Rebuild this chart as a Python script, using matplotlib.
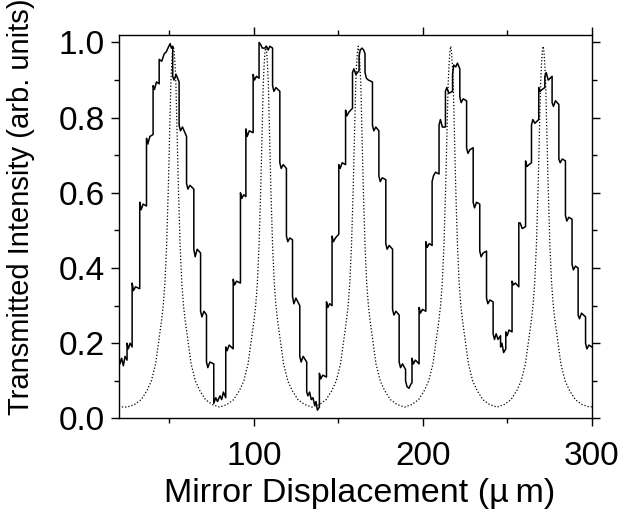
import matplotlib
matplotlib.use("Agg")
import matplotlib.pyplot as plt
from matplotlib.ticker import MultipleLocator

# ----------------------------
# Datos
# ----------------------------
# Señal medida (escalones), un renglón por escalón
solid_x = [
    20.0, 20.8, 21.8, 22.8, 23.8, 25.0,
    25.0, 25.7, 26.8, 28.0,
    28.0, 28.8, 30.0, 32.5,
    32.5, 33.3, 34.5, 36.5,
    36.5, 37.3, 38.5, 40.4,
    40.4, 41.2, 42.4, 44.0,
    44.0, 45.5, 47.0, 48.2, 49.5, 50.5, 51.2, 52.0,
    52.0, 52.8, 54.0, 55.8,
    55.8, 56.6, 57.8, 60.2,
    60.2, 61.0, 62.2, 64.5,
    64.5, 65.3, 66.5, 68.5,
    68.5, 69.3, 70.5, 72.0,
    72.0, 72.8, 74.0, 76.3,
    76.3, 77.5, 78.5, 80.0, 81.0, 82.0, 83.4,
    83.4, 84.2, 85.4, 87.8,
    87.8, 88.6, 89.8, 92.1,
    92.1, 92.9, 94.0, 95.3,
    95.3, 96.1, 97.3, 99.6,
    99.6, 100.4, 101.6, 103.1,
    103.1, 104.0, 105.0, 106.5, 107.5, 108.5, 109.5, 111.1,
    111.1, 111.9, 113.1, 115.4,
    115.4, 116.2, 117.4, 119.3,
    119.3, 120.1, 121.3, 122.9,
    122.9, 123.7, 124.9, 127.2,
    127.2, 128.0, 129.2, 131.3,
    131.3, 132.0, 133.0, 134.0, 135.0, 136.0, 136.8, 137.6, 138.8,
    138.8, 139.6, 140.8, 143.0,
    143.0, 143.8, 144.9, 146.3,
    146.3, 147.1, 148.3, 150.3,
    150.3, 151.1, 152.3, 154.3,
    154.3, 155.1, 156.3, 158.4,
    158.4, 159.2, 160.4, 162.3,
    162.3, 163.0, 164.0, 165.0, 165.8,
    165.8, 166.6, 167.8, 170.2,
    170.2, 171.0, 172.2, 174.0,
    174.0, 174.8, 176.0, 178.1,
    178.1, 178.9, 180.1, 182.1,
    182.1, 182.9, 184.1, 186.0,
    186.0, 186.8, 188.0, 189.8,
    189.8, 190.6, 191.8, 192.8, 193.6,
    193.6, 194.4, 195.6, 197.8,
    197.8, 198.6, 199.8, 201.8,
    201.8, 202.6, 203.8, 205.5,
    205.5, 206.3, 207.5, 209.6,
    209.6, 210.4, 211.6, 213.4,
    213.4, 214.2, 215.4, 217.6,
    217.6, 218.3, 219.5, 220.5, 221.9,
    221.9, 222.7, 223.9, 225.9,
    225.9, 226.7, 227.9, 229.8,
    229.8, 230.6, 231.8, 233.7,
    233.7, 234.5, 235.7, 237.7,
    237.7, 238.5, 239.7, 241.6,
    241.6, 242.4, 243.4, 244.5, 246.0,
    246.0, 246.8, 247.8, 249.1,
    249.1, 249.9, 251.0, 252.8,
    252.8, 253.6, 254.8, 256.8,
    256.8, 257.6, 258.8, 260.8,
    260.8, 261.6, 262.8, 264.3,
    264.3, 265.1, 266.3, 268.6,
    268.6, 269.4, 270.6, 272.2,
    272.2, 273.0, 274.2, 276.5,
    276.5, 277.3, 278.5, 280.5,
    280.5, 281.3, 282.5, 284.4,
    284.4, 285.2, 286.4, 288.3,
    288.3, 289.1, 290.3, 291.9,
    291.9, 292.7, 293.9, 296.3,
    296.3, 297.1, 298.3, 300.0,
]
solid_y = [
    0.175, 0.145, 0.16, 0.14, 0.165, 0.155,
    0.20, 0.185, 0.20, 0.19,
    0.36, 0.34, 0.35, 0.345,
    0.575, 0.555, 0.57, 0.565,
    0.745, 0.73, 0.75, 0.755,
    0.885, 0.875, 0.895, 0.89,
    0.955, 0.95, 0.97, 0.975, 0.988, 0.997, 0.985, 0.99,
    0.91, 0.90, 0.915, 0.895,
    0.78, 0.765, 0.775, 0.75,
    0.625, 0.61, 0.62, 0.61,
    0.45, 0.43, 0.45, 0.44,
    0.285, 0.27, 0.285, 0.275,
    0.15, 0.135, 0.15, 0.145,
    0.04, 0.055, 0.045, 0.06, 0.05, 0.07, 0.055,
    0.19, 0.18, 0.195, 0.185,
    0.37, 0.355, 0.365, 0.36,
    0.60, 0.585, 0.595, 0.59,
    0.77, 0.75, 0.765, 0.76,
    0.915, 0.90, 0.91, 0.905,
    1.0, 0.995, 0.985, 0.985, 0.99, 0.98, 0.99, 0.985,
    0.885, 0.87, 0.88, 0.87,
    0.68, 0.665, 0.675, 0.665,
    0.485, 0.47, 0.48, 0.475,
    0.325, 0.305, 0.32, 0.30,
    0.165, 0.15, 0.165, 0.15,
    0.07, 0.06, 0.07, 0.05, 0.055, 0.035, 0.045, 0.022, 0.03,
    0.12, 0.105, 0.115, 0.11,
    0.31, 0.295, 0.305, 0.30,
    0.485, 0.47, 0.48, 0.49,
    0.675, 0.665, 0.68, 0.675,
    0.82, 0.805, 0.815, 0.825,
    0.92, 0.93, 0.915, 0.925,
    0.965, 0.98, 0.985, 0.98, 0.97,
    0.92, 0.905, 0.90, 0.895,
    0.78, 0.765, 0.775, 0.765,
    0.645, 0.63, 0.64, 0.635,
    0.465, 0.45, 0.46, 0.45,
    0.29, 0.275, 0.285, 0.275,
    0.15, 0.135, 0.145, 0.13,
    0.10, 0.085, 0.08, 0.09, 0.095,
    0.16, 0.145, 0.155, 0.145,
    0.295, 0.28, 0.29, 0.285,
    0.47, 0.455, 0.465, 0.46,
    0.63, 0.645, 0.655, 0.65,
    0.78, 0.795, 0.775, 0.775,
    0.87, 0.88, 0.865, 0.87,
    0.915, 0.94, 0.935, 0.945, 0.93,
    0.855, 0.84, 0.85, 0.845,
    0.72, 0.705, 0.715, 0.72,
    0.575, 0.56, 0.575, 0.57,
    0.445, 0.43, 0.44, 0.445,
    0.32, 0.305, 0.315, 0.31,
    0.225, 0.21, 0.225, 0.21, 0.22,
    0.19, 0.20, 0.175, 0.185,
    0.23, 0.22, 0.235, 0.23,
    0.365, 0.355, 0.36, 0.35,
    0.52, 0.52, 0.505, 0.51,
    0.685, 0.67, 0.675, 0.68,
    0.78, 0.795, 0.785, 0.795,
    0.88, 0.87, 0.875, 0.88,
    0.91, 0.92, 0.90, 0.91,
    0.84, 0.83, 0.845, 0.835,
    0.69, 0.68, 0.69, 0.685,
    0.54, 0.525, 0.535, 0.53,
    0.41, 0.395, 0.405, 0.40,
    0.275, 0.265, 0.28, 0.27,
    0.20, 0.185, 0.195, 0.19,
]

# Curva teórica (punteada), un renglón por pico
dotted_x = [
    20.0, 25.0,
    29.4, 33.4, 36.9, 39.4, 41.9, 43.9, 45.4, 46.4, 47.4, 48.4, 49.4, 49.9, 50.4, 50.9, 51.4, 51.9,
    52.4, 52.9, 53.4, 53.9, 54.4, 54.9, 55.4, 56.4, 57.4, 58.4, 59.4, 60.9, 62.9, 65.4, 67.9, 71.4, 75.4,
    79.75,
    84.1, 88.1, 91.6, 94.1, 96.6, 98.6, 100.1, 101.1, 102.1, 103.1, 104.1, 104.6, 105.1, 105.6, 106.1, 106.6,
    107.1, 107.6, 108.1, 108.6, 109.1, 109.6, 110.1, 111.1, 112.1, 113.1, 114.1, 115.6, 117.6, 120.1, 122.6, 126.1, 130.1,
    134.45,
    138.8, 142.8, 146.3, 148.8, 151.3, 153.3, 154.8, 155.8, 156.8, 157.8, 158.8, 159.3, 159.8, 160.3, 160.8, 161.3,
    161.8, 162.3, 162.8, 163.3, 163.8, 164.3, 164.8, 165.8, 166.8, 167.8, 168.8, 170.3, 172.3, 174.8, 177.3, 180.8, 184.8,
    189.15,
    193.5, 197.5, 201.0, 203.5, 206.0, 208.0, 209.5, 210.5, 211.5, 212.5, 213.5, 214.0, 214.5, 215.0, 215.5, 216.0,
    216.5, 217.0, 217.5, 218.0, 218.5, 219.0, 219.5, 220.5, 221.5, 222.5, 223.5, 225.0, 227.0, 229.5, 232.0, 235.5, 239.5,
    243.85,
    248.2, 252.2, 255.7, 258.2, 260.7, 262.7, 264.2, 265.2, 266.2, 267.2, 268.2, 268.7, 269.2, 269.7, 270.2, 270.7,
    271.2, 271.7, 272.2, 272.7, 273.2, 273.7, 274.2, 275.2, 276.2, 277.2, 278.2, 279.7, 281.7, 284.2, 286.7, 290.2, 294.2,
    298.6, 300.0,
]
dotted_y = [
    0.031, 0.030,
    0.037, 0.05, 0.075, 0.10, 0.145, 0.21, 0.26, 0.30, 0.36, 0.46, 0.61, 0.70, 0.80, 0.89, 0.94, 0.975,
    0.99, 0.975, 0.94, 0.89, 0.80, 0.70, 0.61, 0.46, 0.36, 0.30, 0.26, 0.21, 0.145, 0.10, 0.075, 0.05, 0.037,
    0.030,
    0.037, 0.05, 0.075, 0.10, 0.145, 0.21, 0.26, 0.30, 0.36, 0.46, 0.61, 0.70, 0.80, 0.89, 0.94, 0.975,
    0.99, 0.975, 0.94, 0.89, 0.80, 0.70, 0.61, 0.46, 0.36, 0.30, 0.26, 0.21, 0.145, 0.10, 0.075, 0.05, 0.037,
    0.030,
    0.037, 0.05, 0.075, 0.10, 0.145, 0.21, 0.26, 0.30, 0.36, 0.46, 0.61, 0.70, 0.80, 0.89, 0.94, 0.975,
    0.99, 0.975, 0.94, 0.89, 0.80, 0.70, 0.61, 0.46, 0.36, 0.30, 0.26, 0.21, 0.145, 0.10, 0.075, 0.05, 0.037,
    0.030,
    0.037, 0.05, 0.075, 0.10, 0.145, 0.21, 0.26, 0.30, 0.36, 0.46, 0.61, 0.70, 0.80, 0.89, 0.94, 0.975,
    0.99, 0.975, 0.94, 0.89, 0.80, 0.70, 0.61, 0.46, 0.36, 0.30, 0.26, 0.21, 0.145, 0.10, 0.075, 0.05, 0.037,
    0.030,
    0.037, 0.05, 0.075, 0.10, 0.145, 0.21, 0.26, 0.30, 0.36, 0.46, 0.61, 0.70, 0.80, 0.89, 0.94, 0.975,
    0.99, 0.975, 0.94, 0.89, 0.80, 0.70, 0.61, 0.46, 0.36, 0.30, 0.26, 0.21, 0.145, 0.10, 0.075, 0.05, 0.037,
    0.030, 0.031,
]

x_label = "Mirror Displacement (\u00b5\u2009m)"
y_label = "Transmitted Intensity (arb. units)"

# ----------------------------
# Plot
# ----------------------------
plt.rcParams["font.family"] = ["Liberation Sans", "DejaVu Sans"]

fig = plt.figure(figsize=(6.21, 5.14), dpi=100)
ax = fig.add_axes([0.191, 0.186, 0.762, 0.746])

ax.plot(dotted_x, dotted_y, color="black", lw=0.9, linestyle=(0, (1, 1.6)))
ax.plot(solid_x, solid_y, color="black", lw=1.1)

ax.set_xlim(20, 300)
ax.set_ylim(0, 1.02)
ax.xaxis.set_major_locator(MultipleLocator(100))
ax.xaxis.set_minor_locator(MultipleLocator(50))
ax.yaxis.set_major_locator(MultipleLocator(0.2))
ax.yaxis.set_minor_locator(MultipleLocator(0.1))
ax.yaxis.set_major_formatter(lambda v, p: f"{v:.1f}")

ax.tick_params(which="both", direction="out", top=True, right=True,
               width=1.0, labelsize=24, pad=4)
ax.tick_params(which="major", length=6)
ax.tick_params(which="minor", length=3.5)
ax.tick_params(axis="x", which="major", pad=10)
for s in ax.spines.values():
    s.set_linewidth(1.0)

ax.set_xlabel(x_label, fontsize=24.5)
ax.set_ylabel(y_label, fontsize=21)
ax.xaxis.set_label_coords(0.51, -0.156)
ax.yaxis.set_label_coords(-0.176, 0.551)

fig.savefig("out.png", dpi=100)
